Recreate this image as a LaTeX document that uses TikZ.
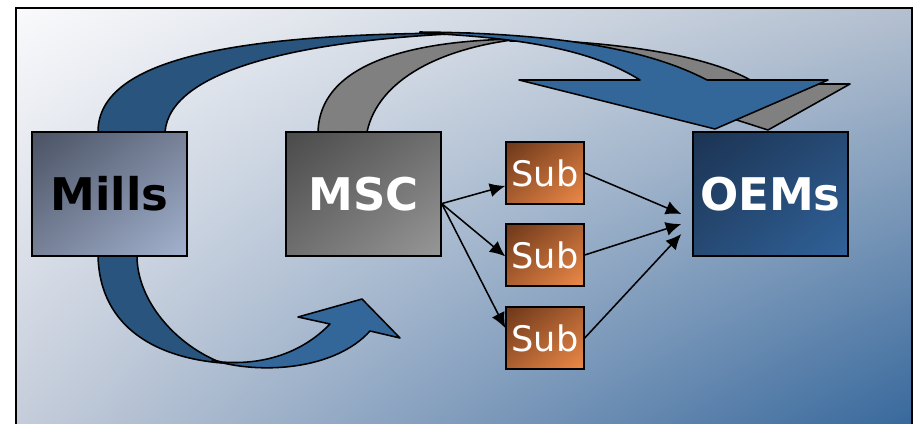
\documentclass[tikz,border=0pt]{standalone}
\usepackage{fontspec}
\setsansfont{DejaVu Sans}
\usetikzlibrary{calc}
\usetikzlibrary{positioning,arrows.meta,shadings}
\definecolor{bgtl}{HTML}{FAFAFC}
\definecolor{bgtr}{HTML}{B4C0D0}
\definecolor{bgbl}{HTML}{C3CBD9}
\definecolor{bgbr}{HTML}{33659A}
\definecolor{millsdark}{HTML}{4A5263}
\definecolor{millsmid}{HTML}{778299}
\definecolor{millslight}{HTML}{A3B2CF}
\definecolor{mscdark}{HTML}{4A4A4A}
\definecolor{mscmid}{HTML}{6F6F6F}
\definecolor{msclight}{HTML}{979797}
\definecolor{oemdark}{HTML}{1B3352}
\definecolor{oemmid}{HTML}{264A74}
\definecolor{oemlight}{HTML}{30629A}
\definecolor{subdark}{HTML}{6B3719}
\definecolor{submid}{HTML}{AD6031}
\definecolor{sublight}{HTML}{EE8A48}
\definecolor{backblue}{HTML}{29547E}
\definecolor{frontblue}{HTML}{336699}
\definecolor{ribbongray}{HTML}{808080}
\tikzset{box/.style={draw=black,line width=1pt,minimum width=3.875cm,minimum height=3.1cm,inner sep=0pt,font=\sffamily\bfseries\fontsize{32}{36}\selectfont}}
\tikzset{subbox/.style={draw=black,line width=1pt,minimum width=1.95cm,minimum height=1.55cm,inner sep=0pt,text=white,upper left=subdark,upper right=submid,lower left=submid,lower right=sublight,font=\sffamily\fontsize{25}{28}\selectfont}}
\tikzset{ribbon/.style={draw=black,line width=1.1pt,line join=round}}
\tikzset{flow/.style={-{Latex[length=11pt,width=10pt]},line width=1.1pt}}

\begin{document}
\begin{tikzpicture}[x=0.025cm,y=-0.025cm]
	\useasboundingbox (0,0) rectangle (913,423);
	\clip (0,0) rectangle (913,423);
	\fill[white] (0,0) rectangle (913,423);
	\shade[upper left=bgtl,upper right=bgtr,lower left=bgbl,lower right=bgbr] (16,8) rectangle (912,440);
	\draw[line width=1.2pt] (16,440) -- (16,8) -- (912,8) -- (912,440);
	\draw[ribbon,fill=ribbongray] (318,132) .. controls (320,60) and (420,40) .. (520,39) .. controls (440,48) and (378,80) .. (367,132) -- cycle;
	\draw[ribbon,fill=ribbongray] (510,39) .. controls (640,42) and (720,60) .. (757,84) -- (850,84) -- (768,130) -- (624,84) -- (700,84) .. controls (650,55) and (580,42) .. (510,41) -- cycle;
	\draw[ribbon,fill=backblue] (98,132) .. controls (98,60) and (230,33) .. (470,33) .. controls (300,40) and (170,70) .. (165,132) -- cycle;
	\draw[ribbon,fill=frontblue] (420,32) .. controls (560,33) and (650,50) .. (707,80) -- (828,80) -- (715,129) -- (519,80) -- (640,80) .. controls (600,55) and (540,38) .. (420,33) -- cycle;
	\draw[ribbon,fill=backblue] (98,256) .. controls (100,330) and (160,358) .. (222,363) .. controls (175,345) and (137,300) .. (137,256) -- cycle;
	\draw[ribbon,fill=frontblue] (212,360) .. controls (260,375) and (335,370) .. (370,331) -- (400,338) -- (362,299) -- (298,317) -- (330,324) .. controls (300,355) and (260,365) .. (222,362) -- cycle;
	\node[box,upper left=millsdark,upper right=millsmid,lower left=millsmid,lower right=millslight,text=black] (mills) at (109.5,194) {Mills};
	\node[box,upper left=mscdark,upper right=mscmid,lower left=mscmid,lower right=msclight,text=white] (msc) at (363.5,194) {MSC};
	\node[box,upper left=oemdark,upper right=oemmid,lower left=oemmid,lower right=oemlight,text=white] (oem) at (770.5,194) {OEMs};
	\node[subbox] (sub1) at (545,173) {Sub};
	\node[subbox] (sub2) at (545,255) {Sub};
	\node[subbox] (sub3) at (545,338) {Sub};
	\coordinate (fork) at (msc.-7);
	\coordinate (in1) at ($(oem.west)+(-11,20)$);
	\coordinate (in2) at ($(oem.west)+(-11,30)$);
	\coordinate (in3) at ($(oem.west)+(-11,40)$);
	\draw[flow] (fork) -- (sub1.198);
	\draw[flow] (fork) -- (sub2.182);
	\draw[flow] (fork) -- (sub3.166);
	\draw[flow] (sub1.east) -- (in1);
	\draw[flow] (sub2.east) -- (in2);
	\draw[flow] (sub3.east) -- (in3);
\end{tikzpicture}
\end{document}
